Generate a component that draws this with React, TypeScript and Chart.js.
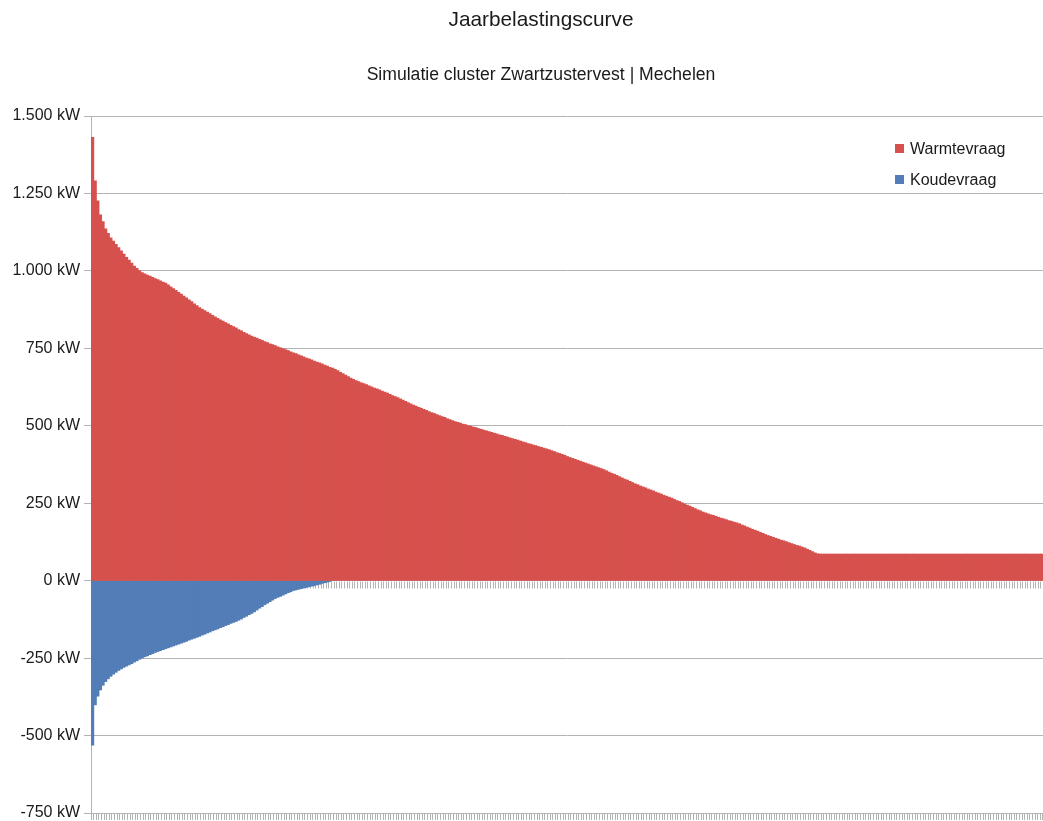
import React, { useEffect, useRef } from "react";
import { Chart, registerables } from "chart.js";

Chart.register(...registerables);

const TITLE = "Jaarbelastingscurve";
const SUBTITLE = "Simulatie cluster Zwartzustervest | Mechelen";
const UNIT = "kW";

const SERIES_NAMES = ["Warmtevraag", "Koudevraag"];
const SERIES_COLORS = ["#d6514d", "#527db7"];

// y-axis range and step (kW)
const Y_MIN = -750;
const Y_MAX = 1500;
const Y_STEP = 250;

// Daily heat demand, sorted from highest to lowest (kW)
const warmtevraag = [
  1430, 1290, 1225, 1180, 1158, 1135, 1120, 1106, 1095, 1085,
  1074, 1064, 1053, 1043, 1034, 1024, 1015, 1007, 1000, 994,
  990, 986, 982, 978, 974, 971, 967, 963, 960,
  954, 948, 942, 936, 930,
  924, 918, 912, 906, 900, 893, 887, 881, 876,
  871, 866, 861, 856, 851, 846, 841, 837, 832,
  828, 823, 819, 815, 810, 806, 801, 797, 793, 789,
  785, 782, 778, 775, 771, 768, 764, 761, 758, 754, 751, 748, 745,
  742, 738, 735, 732, 728, 725, 722, 718, 715, 712, 708, 705, 702,
  699, 695, 692, 688, 685, 681,
  677, 672, 668, 663, 658, 653, 649,
  645, 642, 638, 635, 632, 628, 625, 621, 618, 615, 611, 608, 605,
  601, 597, 593, 590, 586, 582, 578, 574, 570, 566, 563, 559, 556,
  552, 549, 545, 542, 539, 535, 532, 529, 526, 522, 519, 516, 513, 510, 508,
  505, 503, 500, 498, 495, 493, 490, 488, 485, 483, 480, 478, 475, 473, 470, 468, 465,
  463, 460, 458, 455, 453, 450, 447, 445, 442, 440, 437, 435, 432, 430, 427, 425, 422,
  419, 416, 413, 410, 407, 404, 400, 397, 394, 391, 388, 385,
  382, 379, 376, 373, 370, 367, 364, 361, 358,
  354, 350, 346, 343, 339, 335, 331, 327, 324, 320, 316, 312, 309,
  305, 302, 299, 295, 292, 289, 285, 282, 279, 275, 272, 269, 266,
  262, 258, 255, 251, 247, 243, 240, 236, 232, 228, 225, 221, 218,
  215, 212, 210, 207, 204, 201, 199, 196, 193, 191, 188, 186,
  183, 179, 176, 172, 169, 165, 162, 159, 155, 152, 148, 145, 142,
  139, 136, 133, 130, 128, 125, 122, 119, 116, 113, 111, 108, 105,
  101, 97, 93, 89, 86,
  85, 85, 85, 85, 85, 85, 85, 85, 85, 85,
  85, 85, 85, 85, 85, 85, 85, 85, 85, 85,
  85, 85, 85, 85, 85, 85, 85, 85, 85, 85,
  85, 85, 85, 85, 85, 85, 85, 85, 85, 85,
  85, 85, 85, 85, 85, 85, 85, 85, 85, 85,
  85, 85, 85, 85, 85, 85, 85, 85, 85, 85,
  85, 85, 85, 85, 85, 85, 85, 85, 85, 85,
  85, 85, 85, 85, 85, 85, 85, 85, 85, 85,
  85, 85, 85, 85, 85, 85,
];

// Daily cooling demand, sorted from highest to lowest (kW, negative)
const koudevraag = [
  -530, -400, -372, -352, -337, -325, -316, -308, -301, -295,
  -289, -284, -279, -275, -271, -267, -262, -258, -253, -249,
  -245, -242, -238, -235, -231, -228, -225, -222, -219, -216,
  -213, -210, -207, -204, -201, -198, -195, -191, -188, -185,
  -182, -179, -175, -172, -168, -165, -161, -158, -155, -151,
  -148, -144, -141, -137, -134, -131, -127, -123, -118, -114,
  -109, -105, -100, -94, -88, -83, -77, -72, -67, -62,
  -57, -53, -50, -46, -42, -38, -35, -31, -29, -27,
  -25, -23, -21, -19, -17, -15, -13, -11, -8, -6,
  -4, -2,
  0, 0, 0, 0, 0, 0, 0, 0, 0, 0, 0, 0, 0, 0, 0, 0, 0, 0, 0, 0,
  0, 0, 0, 0, 0, 0, 0, 0, 0, 0, 0, 0, 0, 0, 0, 0, 0, 0, 0, 0,
  0, 0, 0, 0, 0, 0, 0, 0, 0, 0, 0, 0, 0, 0, 0, 0, 0, 0, 0, 0,
  0, 0, 0, 0, 0, 0, 0, 0, 0, 0, 0, 0, 0, 0, 0, 0, 0, 0, 0, 0,
  0, 0, 0, 0, 0, 0, 0, 0, 0, 0, 0, 0, 0, 0, 0, 0, 0, 0, 0, 0,
  0, 0, 0, 0, 0, 0, 0, 0, 0, 0, 0, 0, 0, 0, 0, 0, 0, 0, 0, 0,
  0, 0, 0, 0, 0, 0, 0, 0, 0, 0, 0, 0, 0, 0, 0, 0, 0, 0, 0, 0,
  0, 0, 0, 0, 0, 0, 0, 0, 0, 0, 0, 0, 0, 0, 0, 0, 0, 0, 0, 0,
  0, 0, 0, 0, 0, 0, 0, 0, 0, 0, 0, 0, 0, 0, 0, 0, 0, 0, 0, 0,
  0, 0, 0, 0, 0, 0, 0, 0, 0, 0, 0, 0, 0, 0, 0, 0, 0, 0, 0, 0,
  0, 0, 0, 0, 0, 0, 0, 0, 0, 0, 0, 0, 0, 0, 0, 0, 0, 0, 0, 0,
  0, 0, 0, 0, 0, 0, 0, 0, 0, 0, 0, 0, 0, 0, 0, 0, 0, 0, 0, 0,
  0, 0, 0, 0, 0, 0, 0, 0, 0, 0, 0, 0, 0, 0, 0, 0, 0, 0, 0, 0,
  0, 0, 0, 0, 0, 0, 0, 0, 0, 0, 0, 0, 0,
];

// One category per day of the year (no visible labels)
const days = warmtevraag.map((_, i) => String(i + 1));

const FONT = '"Liberation Sans", Arial, sans-serif';
const TEXT_COLOR = "#1a1a1a";
const GRID_COLOR = "#b3b3b3";
const W = 1043;
const H = 821;

const formatKW = (v: number) =>
  String(v).replace(/\B(?=(\d{3})+(?!\d))/g, ".") + " " + UNIT;

// Tick marks hanging under the zero line, one per category boundary
const zeroTicks = {
  id: "zeroTicks",
  beforeDatasetsDraw(chart: any) {
    const { ctx, chartArea } = chart;
    const y0 = Math.round(chart.scales.y.getPixelForValue(0)) + 0.5;
    const n = chart.data.labels.length;
    const step = chartArea.width / n;
    ctx.save();
    ctx.strokeStyle = GRID_COLOR;
    ctx.lineWidth = 1;
    ctx.beginPath();
    for (let i = 0; i <= n; i++) {
      const x = Math.round(chartArea.left + i * step) + 0.5;
      ctx.moveTo(x, y0);
      ctx.lineTo(x, y0 + 7);
    }
    ctx.stroke();
    ctx.restore();
  },
};

// Title, subtitle and legend
const headings = {
  id: "headings",
  afterDraw(chart: any) {
    const { ctx } = chart;
    ctx.save();
    ctx.fillStyle = TEXT_COLOR;
    ctx.textAlign = "center";
    ctx.textBaseline = "alphabetic";
    ctx.font = `20.8px ${FONT}`;
    ctx.fillText(TITLE, 541, 26);
    ctx.font = `17.6px ${FONT}`;
    ctx.fillText(SUBTITLE, 541, 80);

    ctx.textAlign = "left";
    ctx.font = `16px ${FONT}`;
    SERIES_NAMES.forEach((name, i) => {
      const top = 144 + i * 31;
      ctx.fillStyle = SERIES_COLORS[i];
      ctx.fillRect(895, top, 9, 9);
      ctx.fillStyle = TEXT_COLOR;
      ctx.fillText(name, 910, top + 10);
    });
    ctx.restore();
  },
};

export default function App() {
  const canvasRef = useRef<HTMLCanvasElement | null>(null);

  useEffect(() => {
    const canvas = canvasRef.current;
    if (!canvas) return;
    const chart = new Chart(canvas, {
      type: "bar",
      data: {
        labels: days,
        datasets: [
          {
            label: SERIES_NAMES[0],
            data: warmtevraag,
            backgroundColor: SERIES_COLORS[0],
            borderWidth: 0,
            inflateAmount: 0.6,
          } as any,
          {
            label: SERIES_NAMES[1],
            // days without cooling are left out so no sliver is drawn on the zero line
            data: koudevraag.map((v) => (v === 0 ? null : v)),
            backgroundColor: SERIES_COLORS[1],
            borderWidth: 0,
            inflateAmount: 0.6,
          } as any,
        ],
      },
      options: {
        animation: false,
        responsive: false,
        devicePixelRatio: 1,
        events: [],
        layout: { padding: { top: 116, left: 0, right: 0, bottom: 1 } },
        datasets: {
          bar: { barPercentage: 1, categoryPercentage: 1 },
        },
        plugins: {
          legend: { display: false },
          title: { display: false },
          tooltip: { enabled: false },
        },
        scales: {
          x: {
            type: "category",
            stacked: true,
            offset: true,
            grid: {
              display: true,
              drawOnChartArea: false,
              drawTicks: true,
              tickLength: 7,
              color: GRID_COLOR,
              offset: true,
            },
            border: { display: true, color: GRID_COLOR },
            ticks: { display: false, autoSkip: false },
          },
          y: {
            stacked: true,
            min: Y_MIN,
            max: Y_MAX,
            grid: {
              color: GRID_COLOR,
              tickLength: 7,
              drawTicks: true,
            },
            border: { display: true, color: GRID_COLOR },
            ticks: {
              stepSize: Y_STEP,
              padding: 4,
              color: TEXT_COLOR,
              font: { family: FONT, size: 16 },
              callback: (v: any) => formatKW(Number(v)),
            },
            afterFit: (scale: any) => {
              scale.width = 91;
              scale.paddingTop = 0;
              scale.paddingBottom = 0;
            },
          },
        },
      },
      plugins: [zeroTicks, headings],
    });
    return () => chart.destroy();
  }, []);

  return (
    <div style={{ position: "absolute", left: 0, top: 0, width: W, height: H, background: "#fff" }}>
      <canvas ref={canvasRef} width={W} height={H} style={{ display: "block" }} />
    </div>
  );
}
